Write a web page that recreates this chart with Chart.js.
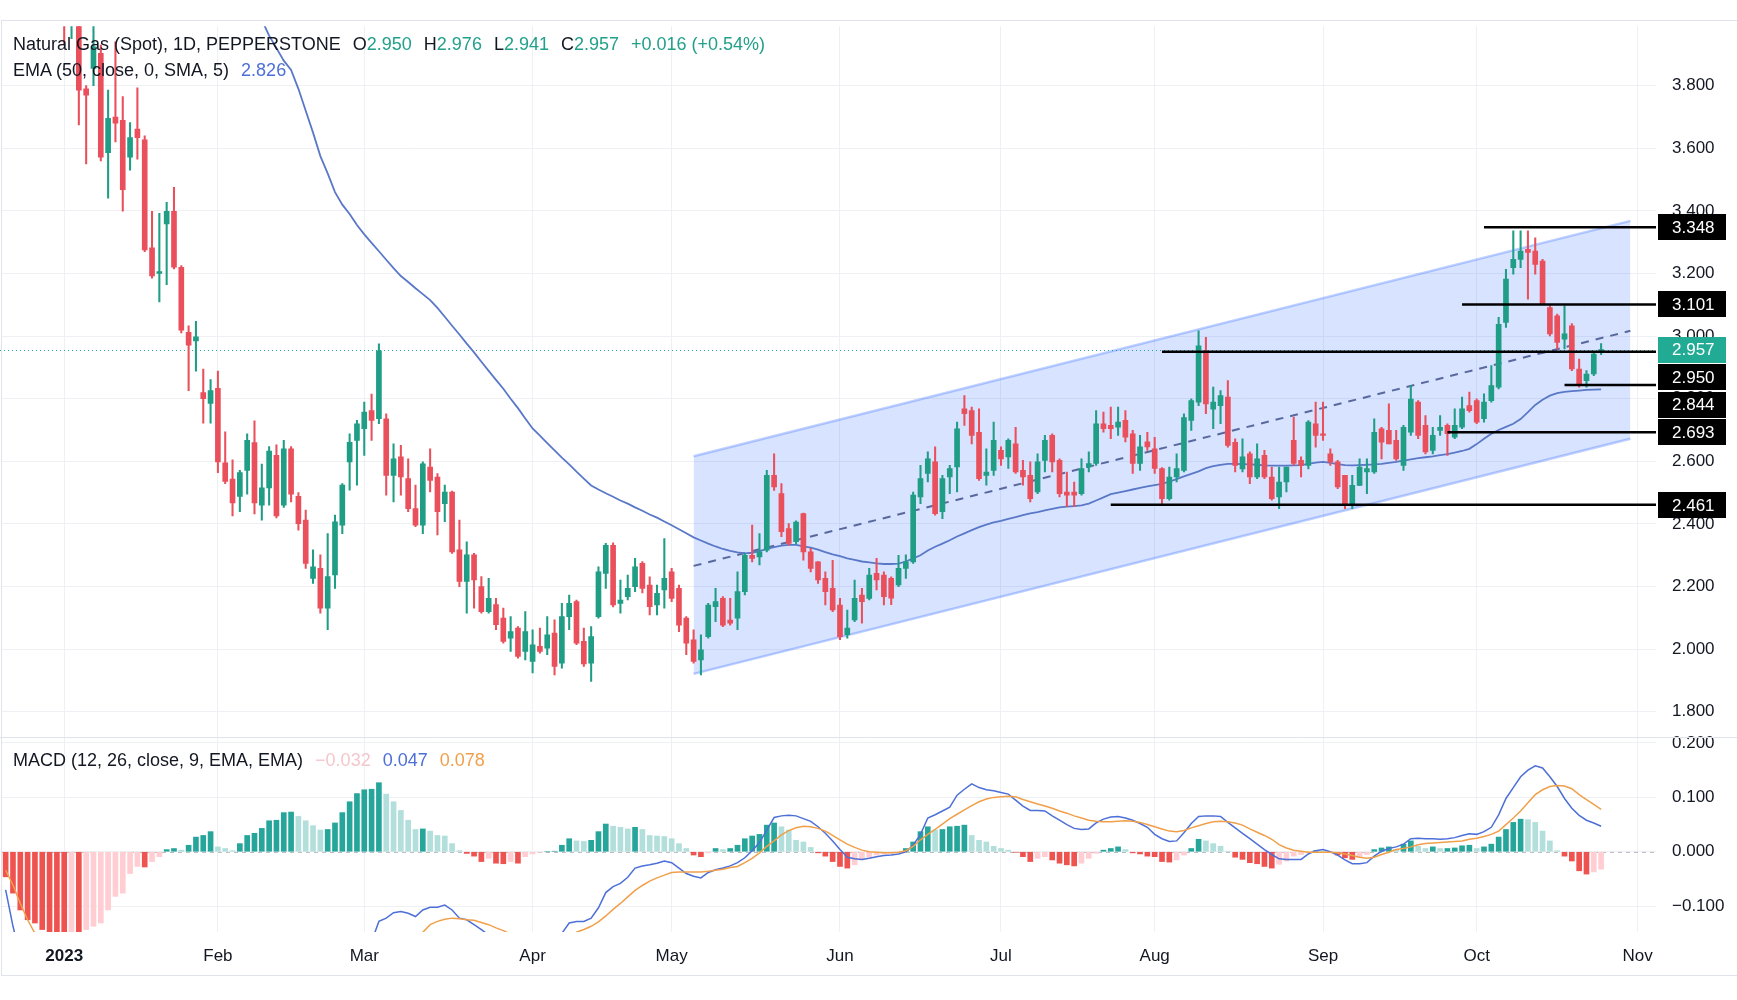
<!DOCTYPE html>
<html>
<head>
<meta charset="utf-8">
<title>Natural Gas (Spot), 1D</title>
<script src="https://cdn.jsdelivr.net/npm/chart.js@4.4.1/dist/chart.umd.min.js"></script>
<style>
  html, body { margin: 0; padding: 0; background: #fff; }
  #wrap { position: relative; width: 1737px; height: 1000px; overflow: hidden; }
  #chart { position: absolute; left: 0; top: 0; }
  .legend { position: absolute; left: 13px; font: 18px 'Liberation Sans', Arial, sans-serif; color: #131722; white-space: nowrap; line-height: 22px; }
  .legend span { margin-left: 12px; }
  .up { color: #22a08a; }
</style>
</head>
<body>
<div id="wrap">
  <canvas id="chart" width="1737" height="1000"></canvas>
  <div class="legend" style="top:33px">Natural Gas (Spot), 1D, PEPPERSTONE<span id="ohlc"></span></div>
  <div class="legend" style="top:59px">EMA (50, close, 0, SMA, 5)<span style="color:#4d6fd8">2.826</span></div>
  <div class="legend" style="top:749px">MACD (12, 26, close, 9, EMA, EMA)<span style="color:#f5c6cb">&minus;0.032</span><span style="color:#4d6fd8">0.047</span><span style="color:#f0a04b">0.078</span></div>
</div>
<script>
// trading calendar: weekdays, minus the days the market was shut
const firstDay = '2022-12-20';
const lastDay = '2023-11-03';
const closedDays = ['2022-12-26', '2023-01-02', '2023-04-07'];

const dates = [];
for (let d = new Date(firstDay + 'T00:00:00Z'); d <= new Date(lastDay + 'T00:00:00Z'); d.setUTCDate(d.getUTCDate() + 1)) {
  const wd = d.getUTCDay();
  const iso = d.toISOString().slice(0, 10);
  if (wd !== 0 && wd !== 6 && !closedDays.includes(iso)) dates.push(iso);
}

// daily candles, from 3 Jan 2023
const candleStart = '2023-01-03';
const openP = [
  4.40, 4.03, 4.06, 3.79, 3.855, 3.903, 3.586, 3.70, 3.689, 3.572,
  3.661, 3.627, 3.282, 3.20, 3.358, 3.399, 3.220, 3.012, 2.985, 2.82,
  2.785, 2.833, 2.595, 2.543, 2.488, 2.571, 2.660, 2.460, 2.515, 2.619,
  2.460, 2.640, 2.488, 2.412, 2.226, 2.258, 2.131, 2.237, 2.396, 2.598,
  2.667, 2.704, 2.762, 2.736, 2.736, 2.555, 2.614, 2.545, 2.449, 2.396,
  2.582, 2.550, 2.465, 2.502, 2.317, 2.216, 2.301, 2.200, 2.120, 2.142,
  2.099, 2.035, 2.067, 1.993, 1.961, 2.009, 2.003, 2.051, 1.955, 2.104,
  2.152, 2.025, 1.955, 2.104, 2.242, 2.332, 2.146, 2.168, 2.200, 2.274,
  2.205, 2.141, 2.189, 2.247, 2.194, 2.099, 2.030, 1.966, 2.040, 2.136,
  2.162, 2.093, 2.099, 2.184, 2.300, 2.295, 2.316, 2.555, 2.497, 2.385,
  2.343, 2.433, 2.311, 2.279, 2.226, 2.194, 2.141, 2.046, 2.093, 2.173,
  2.162, 2.242, 2.237, 2.226, 2.205, 2.258, 2.279, 2.486, 2.561, 2.598,
  2.439, 2.550, 2.582, 2.768, 2.762, 2.693, 2.555, 2.571, 2.635, 2.614,
  2.656, 2.571, 2.555, 2.502, 2.603, 2.683, 2.603, 2.502, 2.502, 2.497,
  2.582, 2.593, 2.720, 2.715, 2.709, 2.731, 2.688, 2.593, 2.662, 2.640,
  2.577, 2.481, 2.550, 2.571, 2.731, 2.789, 2.953, 2.767, 2.778, 2.805,
  2.661, 2.576, 2.624, 2.550, 2.619, 2.550, 2.486, 2.534, 2.667, 2.603,
  2.587, 2.720, 2.688, 2.624, 2.598, 2.555, 2.460, 2.523, 2.566, 2.566,
  2.704, 2.699, 2.667, 2.587, 2.693, 2.789, 2.715, 2.635, 2.699, 2.715,
  2.677, 2.709, 2.778, 2.794, 2.736, 2.794, 2.837, 3.044, 3.219, 3.245,
  3.277, 3.272, 3.240, 3.091, 3.065, 2.990, 3.033, 2.895, 2.858, 2.879, 2.950
];
const highP = [
  4.45, 4.15, 4.10, 3.80, 4.02, 3.93, 3.786, 3.94, 3.765, 3.682,
  3.793, 3.64, 3.399, 3.392, 3.427, 3.475, 3.225, 3.033, 3.047, 2.895,
  2.861, 2.888, 2.694, 2.605, 2.571, 2.688, 2.729, 2.591, 2.647, 2.653,
  2.667, 2.647, 2.50, 2.444, 2.317, 2.301, 2.369, 2.428, 2.529, 2.688,
  2.731, 2.789, 2.815, 2.975, 2.752, 2.656, 2.651, 2.608, 2.524, 2.598,
  2.640, 2.561, 2.524, 2.505, 2.412, 2.343, 2.306, 2.232, 2.226, 2.162,
  2.131, 2.104, 2.072, 2.120, 2.062, 2.067, 2.104, 2.094, 2.146, 2.173,
  2.157, 2.067, 2.072, 2.263, 2.338, 2.340, 2.221, 2.237, 2.290, 2.280,
  2.231, 2.205, 2.353, 2.258, 2.205, 2.104, 2.062, 2.046, 2.146, 2.194,
  2.168, 2.162, 2.247, 2.306, 2.396, 2.369, 2.571, 2.624, 2.529, 2.401,
  2.410, 2.435, 2.322, 2.280, 2.247, 2.284, 2.162, 2.125, 2.221, 2.194,
  2.258, 2.290, 2.247, 2.231, 2.300, 2.301, 2.502, 2.587, 2.630, 2.646,
  2.555, 2.587, 2.725, 2.810, 2.773, 2.768, 2.640, 2.725, 2.646, 2.672,
  2.709, 2.603, 2.598, 2.624, 2.683, 2.688, 2.608, 2.566, 2.534, 2.608,
  2.630, 2.762, 2.757, 2.773, 2.773, 2.762, 2.699, 2.683, 2.693, 2.677,
  2.580, 2.582, 2.624, 2.752, 2.800, 3.017, 2.996, 2.837, 2.826, 2.858,
  2.672, 2.672, 2.630, 2.656, 2.635, 2.582, 2.582, 2.582, 2.741, 2.614,
  2.730, 2.789, 2.789, 2.640, 2.603, 2.555, 2.555, 2.608, 2.608, 2.736,
  2.709, 2.784, 2.699, 2.715, 2.842, 2.794, 2.746, 2.709, 2.746, 2.720,
  2.768, 2.805, 2.821, 2.800, 2.816, 2.906, 3.060, 3.213, 3.336, 3.336,
  3.336, 3.314, 3.245, 3.097, 3.070, 3.097, 3.040, 2.927, 2.890, 2.948, 2.976
];
const lowP = [
  3.93, 3.95, 3.675, 3.55, 3.80, 3.56, 3.441, 3.62, 3.399, 3.530,
  3.565, 3.27, 3.185, 3.109, 3.164, 3.215, 3.010, 2.826, 2.888, 2.722,
  2.722, 2.564, 2.529, 2.426, 2.439, 2.495, 2.432, 2.412, 2.460, 2.419,
  2.453, 2.47, 2.38, 2.258, 2.210, 2.115, 2.062, 2.194, 2.369, 2.508,
  2.524, 2.619, 2.667, 2.720, 2.492, 2.470, 2.492, 2.439, 2.391, 2.369,
  2.502, 2.365, 2.407, 2.306, 2.200, 2.115, 2.131, 2.115, 2.115, 2.062,
  2.019, 1.993, 1.971, 1.966, 1.924, 1.987, 1.982, 1.918, 1.939, 2.062,
  2.014, 1.945, 1.897, 2.099, 2.194, 2.135, 2.115, 2.157, 2.184, 2.180,
  2.109, 2.109, 2.131, 2.152, 2.056, 1.982, 1.955, 1.918, 2.035, 2.088,
  2.072, 2.077, 2.062, 2.173, 2.279, 2.269, 2.311, 2.507, 2.359, 2.332,
  2.335, 2.284, 2.247, 2.210, 2.141, 2.120, 2.030, 2.035, 2.088, 2.083,
  2.157, 2.189, 2.141, 2.142, 2.200, 2.226, 2.274, 2.465, 2.534, 2.428,
  2.417, 2.497, 2.502, 2.715, 2.656, 2.539, 2.524, 2.555, 2.587, 2.577,
  2.561, 2.524, 2.470, 2.497, 2.566, 2.566, 2.486, 2.455, 2.455, 2.492,
  2.566, 2.587, 2.693, 2.672, 2.683, 2.662, 2.561, 2.571, 2.635, 2.561,
  2.465, 2.476, 2.534, 2.566, 2.699, 2.778, 2.752, 2.704, 2.720, 2.645,
  2.566, 2.566, 2.529, 2.545, 2.545, 2.476, 2.449, 2.502, 2.587, 2.550,
  2.576, 2.645, 2.667, 2.587, 2.513, 2.449, 2.449, 2.523, 2.497, 2.561,
  2.608, 2.656, 2.603, 2.571, 2.683, 2.672, 2.624, 2.624, 2.683, 2.619,
  2.672, 2.704, 2.757, 2.720, 2.725, 2.789, 2.831, 3.028, 3.198, 3.219,
  3.118, 3.198, 3.102, 3.001, 2.959, 2.959, 2.890, 2.837, 2.837, 2.874, 2.941
];
const closeP = [
  4.02, 4.08, 3.786, 3.77, 3.924, 3.572, 3.696, 3.68, 3.468, 3.634,
  3.634, 3.275, 3.192, 3.206, 3.399, 3.220, 3.019, 2.971, 2.998, 2.80,
  2.826, 2.598, 2.536, 2.467, 2.564, 2.667, 2.467, 2.515, 2.633, 2.426,
  2.640, 2.495, 2.401, 2.274, 2.263, 2.131, 2.232, 2.407, 2.524, 2.661,
  2.720, 2.757, 2.731, 2.953, 2.555, 2.608, 2.550, 2.449, 2.396, 2.592,
  2.539, 2.439, 2.502, 2.311, 2.216, 2.301, 2.221, 2.120, 2.162, 2.078,
  2.025, 2.056, 1.977, 2.056, 2.014, 1.993, 2.046, 1.945, 2.104, 2.146,
  2.019, 1.953, 2.040, 2.247, 2.332, 2.141, 2.157, 2.194, 2.263, 2.194,
  2.136, 2.178, 2.226, 2.162, 2.077, 2.019, 1.961, 1.998, 2.141, 2.152,
  2.077, 2.083, 2.184, 2.300, 2.290, 2.311, 2.555, 2.518, 2.375, 2.338,
  2.406, 2.311, 2.258, 2.221, 2.184, 2.125, 2.040, 2.067, 2.162, 2.152,
  2.237, 2.221, 2.168, 2.163, 2.258, 2.279, 2.492, 2.545, 2.608, 2.433,
  2.545, 2.577, 2.704, 2.752, 2.683, 2.545, 2.566, 2.667, 2.608, 2.667,
  2.566, 2.550, 2.481, 2.598, 2.667, 2.598, 2.497, 2.492, 2.492, 2.577,
  2.593, 2.720, 2.704, 2.704, 2.725, 2.677, 2.593, 2.646, 2.646, 2.577,
  2.481, 2.550, 2.577, 2.740, 2.794, 2.969, 2.783, 2.789, 2.810, 2.651,
  2.587, 2.614, 2.550, 2.608, 2.550, 2.481, 2.534, 2.582, 2.593, 2.587,
  2.725, 2.683, 2.683, 2.598, 2.518, 2.460, 2.523, 2.582, 2.577, 2.693,
  2.661, 2.656, 2.608, 2.709, 2.799, 2.683, 2.630, 2.683, 2.709, 2.688,
  2.715, 2.768, 2.762, 2.725, 2.789, 2.842, 3.038, 3.182, 3.245, 3.272,
  3.267, 3.229, 3.102, 3.007, 2.980, 3.007, 2.895, 2.842, 2.879, 2.943, 2.957
];

// EMA 50 as drawn, from 8 Feb 2023
const emaStart = '2023-02-08';
const ema50 = [
  4.05, 4.01, 3.96, 3.92, 3.88, 3.85, 3.79, 3.72, 3.65, 3.575,
  3.52, 3.46, 3.42, 3.39, 3.355, 3.325, 3.298, 3.271, 3.244, 3.217,
  3.192, 3.173, 3.153, 3.134, 3.115, 3.09, 3.062, 3.033, 3.005, 2.976,
  2.948, 2.918, 2.889, 2.86, 2.832, 2.80, 2.77, 2.737, 2.705, 2.682,
  2.658, 2.635, 2.612, 2.59, 2.567, 2.545, 2.523, 2.51, 2.498, 2.487,
  2.475, 2.465, 2.453, 2.442, 2.43, 2.42, 2.408, 2.396, 2.383, 2.37,
  2.357, 2.347, 2.337, 2.328, 2.32, 2.314, 2.309, 2.306, 2.308, 2.313,
  2.32, 2.326, 2.331, 2.333, 2.333, 2.328, 2.324, 2.318, 2.31, 2.303,
  2.297, 2.29, 2.285, 2.28, 2.277, 2.274, 2.272, 2.272, 2.273, 2.28,
  2.29, 2.30, 2.315, 2.327, 2.337, 2.348, 2.36, 2.37, 2.38, 2.39,
  2.398, 2.405, 2.41, 2.416, 2.422, 2.428, 2.434, 2.438, 2.443, 2.448,
  2.453, 2.455, 2.457, 2.459, 2.465, 2.475, 2.485, 2.495, 2.50, 2.505,
  2.51, 2.515, 2.52, 2.524, 2.528, 2.535, 2.543, 2.552, 2.56, 2.568,
  2.578, 2.585, 2.589, 2.592, 2.592, 2.591, 2.59, 2.589, 2.587, 2.586,
  2.586, 2.586, 2.587, 2.588, 2.592, 2.596, 2.598, 2.595, 2.591, 2.588,
  2.587, 2.588, 2.589, 2.59, 2.592, 2.595, 2.598, 2.602, 2.606, 2.61,
  2.613, 2.616, 2.62, 2.623, 2.628, 2.633, 2.64, 2.655, 2.672, 2.688,
  2.70, 2.71, 2.72, 2.735, 2.757, 2.78, 2.797, 2.81, 2.818, 2.822,
  2.824, 2.826, 2.828, 2.829, 2.83
];

// MACD pane, from 20 Dec 2022 (null where the line is far below the pane)
const macdStart = '2022-12-20';
const macdHist = [
  -0.046, -0.076, -0.107, -0.125, -0.131, -0.143, -0.152, -0.158, -0.162, -0.160,
  -0.165, -0.143, -0.137, -0.131, -0.107, -0.082, -0.076, -0.040, -0.027, -0.028,
  -0.018, -0.009, 0.004, 0.006, 0.003, 0.012, 0.027, 0.030, 0.037, 0.009,
  0.006, 0.002, 0.015, 0.030, 0.034, 0.043, 0.057, 0.058, 0.072, 0.073,
  0.065, 0.057, 0.048, 0.040, 0.041, 0.053, 0.072, 0.092, 0.107, 0.114,
  0.115, 0.127, 0.106, 0.092, 0.076, 0.058, 0.041, 0.042, 0.038, 0.030,
  0.029, 0.015, 0.002, -0.003, -0.008, -0.018, -0.012, -0.021, -0.022, -0.018,
  -0.021, -0.009, -0.004, -0.001, 0.000, 0.001, 0.012, 0.024, 0.020, 0.019,
  0.021, 0.037, 0.051, 0.047, 0.045, 0.042, 0.045, 0.041, 0.030, 0.029,
  0.028, 0.024, 0.015, 0.006, -0.006, -0.009, -0.002, 0.006, 0.004, 0.006,
  0.012, 0.024, 0.029, 0.032, 0.049, 0.053, 0.046, 0.040, 0.021, 0.018,
  0.008, -0.002, -0.008, -0.018, -0.027, -0.030, -0.024, -0.015, -0.010, -0.006,
  -0.004, -0.003, -0.001, 0.006, 0.018, 0.037, 0.046, 0.040, 0.041, 0.046,
  0.047, 0.049, 0.030, 0.021, 0.018, 0.010, 0.006, 0.003, -0.001, -0.009,
  -0.018, -0.012, -0.009, -0.015, -0.021, -0.024, -0.026, -0.021, -0.012, -0.003,
  0.003, 0.006, 0.009, 0.004, -0.002, -0.004, -0.008, -0.009, -0.018, -0.019,
  -0.015, -0.006, 0.006, 0.023, 0.020, 0.015, 0.010, 0.001, -0.010, -0.014,
  -0.020, -0.022, -0.027, -0.030, -0.023, -0.017, -0.008, -0.005, -0.001, 0.002,
  0.001, -0.001, -0.006, -0.011, -0.014, -0.010, -0.005, 0.004, 0.007, 0.009,
  0.004, 0.014, 0.020, 0.010, 0.006, 0.009, 0.006, 0.006, 0.007, 0.011,
  0.012, 0.006, 0.009, 0.014, 0.027, 0.041, 0.054, 0.060, 0.059, 0.054,
  0.038, 0.020, 0.002, -0.008, -0.017, -0.035, -0.041, -0.037, -0.032
];
const macdLine = [
  -0.070, -0.137, -0.190, null, null, null, null, null, null, null,
  null, null, null, null, null, null, null, null, null, null,
  null, null, null, null, null, null, null, null, null, null,
  null, null, null, null, null, null, null, null, null, null,
  null, null, null, null, null, null, null, null, null, null,
  -0.165, -0.128, -0.122, -0.112, -0.110, -0.113, -0.119, -0.107, -0.102, -0.102,
  -0.098, -0.107, -0.122, -0.125, -0.134, -0.143, -0.153, -0.165, null, null,
  null, null, null, null, null, -0.170, -0.150, -0.131, -0.128, -0.128,
  -0.122, -0.103, -0.075, -0.064, -0.058, -0.047, -0.030, -0.026, -0.024, -0.021,
  -0.017, -0.020, -0.030, -0.040, -0.045, -0.048, -0.038, -0.033, -0.030, -0.026,
  -0.020, -0.011, 0.002, 0.017, 0.040, 0.063, 0.066, 0.067, 0.066, 0.061,
  0.056, 0.046, 0.034, 0.020, 0.004, -0.010, -0.013, -0.014, -0.012, -0.009,
  -0.007, -0.006, -0.004, 0.000, 0.012, 0.032, 0.062, 0.068, 0.075, 0.082,
  0.104, 0.115, 0.125, 0.118, 0.114, 0.112, 0.109, 0.106, 0.095, 0.084,
  0.076, 0.076, 0.075, 0.066, 0.058, 0.050, 0.043, 0.041, 0.042, 0.053,
  0.060, 0.064, 0.065, 0.062, 0.058, 0.052, 0.045, 0.032, 0.024, 0.019,
  0.020, 0.035, 0.052, 0.065, 0.066, 0.066, 0.065, 0.054, 0.044, 0.034,
  0.024, 0.014, 0.004, -0.005, -0.013, -0.014, -0.014, -0.014, -0.004, 0.002,
  0.004, 0.000, -0.006, -0.015, -0.022, -0.022, -0.020, -0.008, 0.001, 0.006,
  0.009, 0.014, 0.024, 0.025, 0.024, 0.024, 0.023, 0.024, 0.026, 0.030,
  0.033, 0.032, 0.037, 0.045, 0.068, 0.098, 0.118, 0.138, 0.150, 0.158,
  0.154, 0.138, 0.120, 0.098, 0.080, 0.067, 0.058, 0.053, 0.047
];
const signalLine = [
  -0.034, -0.061, -0.095, -0.125, -0.150, -0.170, null, null, null, null,
  null, null, null, null, null, null, null, null, null, null,
  null, null, null, null, null, null, null, null, null, null,
  null, null, null, null, null, null, null, null, null, null,
  null, null, null, null, null, null, null, null, null, null,
  null, null, null, null, null, null, -0.165, -0.148, -0.134, -0.128,
  -0.124, -0.122, -0.123, -0.125, -0.126, -0.130, -0.134, -0.140, -0.145, -0.151,
  -0.160, null, null, null, null, null, null, -0.160, -0.148, -0.143,
  -0.137, -0.129, -0.118, -0.106, -0.095, -0.083, -0.071, -0.062, -0.054, -0.048,
  -0.043, -0.038, -0.037, -0.037, -0.037, -0.037, -0.036, -0.034, -0.032, -0.029,
  -0.027, -0.020, -0.012, -0.002, 0.010, 0.020, 0.031, 0.039, 0.044, 0.047,
  0.046, 0.043, 0.038, 0.030, 0.022, 0.014, 0.008, 0.003, 0.000, -0.001,
  -0.002, -0.002, -0.001, 0.002, 0.010, 0.022, 0.032, 0.041, 0.051, 0.061,
  0.069, 0.077, 0.085, 0.092, 0.097, 0.100, 0.101, 0.102, 0.101, 0.096,
  0.092, 0.088, 0.084, 0.080, 0.075, 0.071, 0.066, 0.062, 0.058, 0.056,
  0.055, 0.055, 0.056, 0.057, 0.056, 0.054, 0.050, 0.046, 0.042, 0.038,
  0.037, 0.039, 0.044, 0.048, 0.052, 0.055, 0.056, 0.055, 0.053, 0.049,
  0.042, 0.036, 0.030, 0.023, 0.013, 0.007, 0.003, 0.001, -0.001, -0.001,
  -0.001, -0.001, -0.002, -0.004, -0.007, -0.010, -0.012, -0.010, -0.005, -0.001,
  0.004, 0.006, 0.009, 0.013, 0.015, 0.016, 0.017, 0.018, 0.019, 0.020,
  0.023, 0.025, 0.028, 0.032, 0.038, 0.050, 0.062, 0.075, 0.090, 0.105,
  0.114, 0.120, 0.122, 0.121, 0.116, 0.105, 0.096, 0.087, 0.078
];

// drawn objects: regression channel and horizontal levels
const channelDates = ['2023-05-04', '2023-10-31'];
const channelTop = [2.616, 3.368];
const channelMid = [2.266, 3.017];
const channelBottom = [1.921, 2.672];
const levelPrices = [3.348, 3.101, 2.950, 2.844, 2.693, 2.461];
const levelFrom = ['2023-10-03', '2023-09-28', '2023-08-02', '2023-10-18', '2023-09-26', '2023-07-24'];

const priceTicks = [1.8, 2.0, 2.2, 2.4, 2.6, 2.8, 3.0, 3.2, 3.4, 3.6, 3.8];
const macdTicks = [-0.1, 0, 0.1, 0.2];
const monthNames = ['Jan', 'Feb', 'Mar', 'Apr', 'May', 'Jun', 'Jul', 'Aug', 'Sep', 'Oct', 'Nov', 'Dec'];

const UP = '#1f9d85';
const DOWN = '#e9505c';
const GRID = '#eef0f4';

// put a series that starts on a given date onto the full calendar
function align(start, arr) {
  const k = dates.indexOf(start);
  return dates.map((_, i) => (i >= k && i - k < arr.length) ? arr[i - k] : null);
}

const o = align(candleStart, openP);
const h = align(candleStart, highP);
const l = align(candleStart, lowP);
const c = align(candleStart, closeP);
const wicks = o.map((v, i) => v == null ? null : [l[i], h[i]]);
const bodies = o.map((v, i) => v == null ? null : [v, c[i]]);
const candleColors = o.map((v, i) => v == null || c[i] >= v ? UP : DOWN);

const hist = align(macdStart, macdHist);
const histColors = hist.map((v, i) => {
  if (v == null) return 'transparent';
  const p = i > 0 && hist[i - 1] != null ? hist[i - 1] : v;
  if (v >= 0) return v >= p ? '#26a69a' : '#b2dfdb';
  return v <= p ? '#ef5350' : '#ffcdd2';
});

const monthStarts = dates.map((d, i) => i > 0 && d.slice(5, 7) !== dates[i - 1].slice(5, 7) ? i : -1).filter(i => i >= 0);
const lastClose = closeP[closeP.length - 1];

// legend values of the last candle
const fmt = v => v.toFixed(3);
document.getElementById('ohlc').innerHTML =
  'O<span class="up" style="margin-left:0">' + fmt(openP[openP.length - 1]) + '</span>' +
  '<span>H</span><span class="up" style="margin-left:0">' + fmt(highP[highP.length - 1]) + '</span>' +
  '<span>L</span><span class="up" style="margin-left:0">' + fmt(lowP[lowP.length - 1]) + '</span>' +
  '<span>C</span><span class="up" style="margin-left:0">' + fmt(lastClose) + '</span>' +
  '<span class="up">+0.016 (+0.54%)</span>';

const pts = (ys) => channelDates.map((d, k) => ({ x: d, y: ys[k] }));

// extra drawing: zero line, last price, levels, price tags, frame
const overlay = {
  id: 'overlay',
  beforeDatasetsDraw(chart) {
    const { ctx, chartArea, scales: { y, y2 } } = chart;
    ctx.save();
    ctx.lineWidth = 1;
    ctx.setLineDash([4, 4]);
    ctx.strokeStyle = 'rgba(120,123,134,0.5)';
    const z = Math.round(y2.getPixelForValue(0)) + 0.5;
    ctx.beginPath(); ctx.moveTo(chartArea.left, z); ctx.lineTo(chartArea.right, z); ctx.stroke();
    ctx.setLineDash([1, 3]);
    ctx.strokeStyle = '#22ab94';
    const cp = Math.round(y.getPixelForValue(lastClose)) + 0.5;
    ctx.beginPath(); ctx.moveTo(0, cp); ctx.lineTo(chartArea.right, cp); ctx.stroke();
    ctx.restore();
  },
  afterDatasetsDraw(chart) {
    const { ctx, chartArea, scales: { x, y } } = chart;
    ctx.save();
    ctx.strokeStyle = '#000';
    ctx.lineWidth = 2.5;
    levelPrices.forEach((p, k) => {
      const py = y.getPixelForValue(p);
      ctx.beginPath();
      ctx.moveTo(x.getPixelForValue(dates.indexOf(levelFrom[k])), py);
      ctx.lineTo(chartArea.right, py);
      ctx.stroke();
    });
    ctx.restore();
  },
  afterDraw(chart) {
    const { ctx, scales: { y, y2 } } = chart;
    ctx.save();
    ctx.strokeStyle = '#e0e3eb';
    ctx.lineWidth = 1;
    ctx.strokeRect(1.5, 20.5, 1760, 955);
    ctx.beginPath(); ctx.moveTo(0, Math.round(y2.top) + 0.5); ctx.lineTo(1737, Math.round(y2.top) + 0.5); ctx.stroke();

    const tags = levelPrices.map(v => ({ v, bg: '#000' }))
      .concat([{ v: lastClose, bg: '#22ab94' }])
      .sort((a, b) => b.v - a.v);
    ctx.font = "17px 'Liberation Sans', Arial, sans-serif";
    ctx.textBaseline = 'middle';
    let prev = -Infinity;
    tags.forEach(t => {
      let py = y.getPixelForValue(t.v);
      if (py < prev + 27.5) py = prev + 27.5;
      prev = py;
      ctx.fillStyle = t.bg;
      ctx.fillRect(y.left + 2, Math.round(py - 13), 68, 26);
      ctx.fillStyle = '#fff';
      ctx.fillText(fmt(t.v), y.left + 16, py + 1);
    });
    ctx.restore();
  }
};

Chart.defaults.font.family = "'Liberation Sans', Arial, sans-serif";
Chart.defaults.font.size = 17;
Chart.defaults.color = '#131722';

new Chart(document.getElementById('chart'), {
  type: 'bar',
  data: {
    labels: dates,
    datasets: [
      { type: 'line', label: 'Channel top', data: pts(channelTop), borderColor: 'rgba(41,98,255,0.3)', borderWidth: 2.5, pointRadius: 0, fill: false, order: 6 },
      { type: 'line', label: 'Channel bottom', data: pts(channelBottom), borderColor: 'rgba(41,98,255,0.3)', borderWidth: 2.5, pointRadius: 0, fill: '-1', backgroundColor: 'rgba(41,98,255,0.18)', order: 5 },
      { type: 'line', label: 'Channel mid', data: pts(channelMid), borderColor: 'rgba(66,84,140,0.85)', borderWidth: 2, borderDash: [8, 7], pointRadius: 0, fill: false, order: 4 },
      { type: 'line', label: 'EMA 50', data: align(emaStart, ema50), borderColor: '#5a78c8', borderWidth: 1.8, pointRadius: 0, fill: false, order: 3 },
      { label: 'Wicks', data: wicks, backgroundColor: candleColors, barThickness: 1.4, grouped: false, order: 2 },
      { label: 'Bodies', data: bodies, backgroundColor: candleColors, barThickness: 5, minBarLength: 1, grouped: false, order: 1 },
      { label: 'Histogram', data: hist, yAxisID: 'y2', backgroundColor: histColors, barThickness: 5, grouped: false, order: 9 },
      { type: 'line', label: 'MACD', data: align(macdStart, macdLine), yAxisID: 'y2', borderColor: '#4d6fd8', borderWidth: 1.5, pointRadius: 0, fill: false, spanGaps: false, order: 8 },
      { type: 'line', label: 'Signal', data: align(macdStart, signalLine), yAxisID: 'y2', borderColor: '#f0a04b', borderWidth: 1.5, pointRadius: 0, fill: false, spanGaps: false, order: 7 }
    ]
  },
  options: {
    responsive: false,
    devicePixelRatio: 1,
    animation: false,
    events: [],
    layout: { padding: { top: 21, left: 2, right: 0, bottom: 0 } },
    plugins: { legend: { display: false }, tooltip: { enabled: false } },
    scales: {
      x: {
        type: 'category',
        offset: true,
        border: { display: false },
        grid: { color: GRID, offset: false, drawTicks: false },
        afterBuildTicks: axis => { axis.ticks = monthStarts.map(v => ({ value: v })); },
        afterFit: axis => { axis.height = 68; },
        ticks: {
          autoSkip: false,
          maxRotation: 0,
          padding: 14,
          font: ctx => ({ size: 17, weight: ctx.index === 0 ? 'bold' : 'normal' }),
          callback: v => {
            const d = dates[v];
            return d.slice(5, 7) === '01' ? d.slice(0, 4) : monthNames[+d.slice(5, 7) - 1];
          }
        }
      },
      y: {
        position: 'right',
        stack: 'panes',
        stackWeight: 715,
        min: 1.719,
        max: 3.99,
        border: { display: false },
        grid: { color: GRID, drawTicks: false },
        afterBuildTicks: axis => { axis.ticks = priceTicks.map(v => ({ value: v })); },
        afterFit: axis => { axis.width = 81; },
        ticks: { padding: 16, callback: v => v.toFixed(3) }
      },
      y2: {
        position: 'right',
        stack: 'panes',
        stackWeight: 196,
        min: -0.1475,
        max: 0.2108,
        border: { display: false },
        grid: { color: GRID, drawTicks: false },
        afterBuildTicks: axis => { axis.ticks = macdTicks.map(v => ({ value: v })); },
        afterFit: axis => { axis.width = 81; },
        ticks: { padding: 16, callback: v => (v < 0 ? '\u2212' : '') + Math.abs(v).toFixed(3) }
      }
    }
  },
  plugins: [overlay]
});
</script>
</body>
</html>
